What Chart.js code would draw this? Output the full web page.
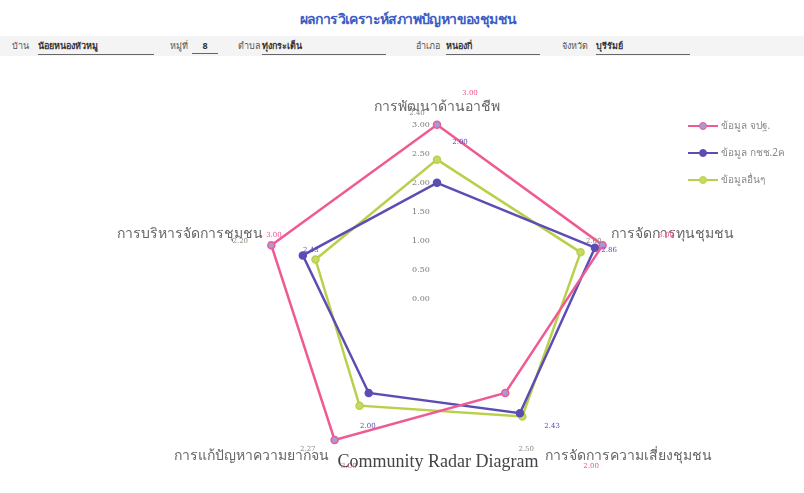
<!DOCTYPE html>
<html>
<head>
<meta charset="utf-8">
<script src="https://cdn.jsdelivr.net/npm/chart.js@4.4.1/dist/chart.umd.min.js"></script>
<style>
    body { margin: 0; width: 804px; height: 493px; background: #fff; position: relative; overflow: hidden; font-family: "Noto Sans", "DejaVu Sans", sans-serif; }
    .title { position: absolute; top: 8px; left: 0; width: 816px; text-align: center; color: #3a5cc4; font-size: 14px; font-weight: bold; letter-spacing: -0.6px; }
    .formRow { position: absolute; top: 36px; left: 0; width: 804px; height: 20px; background: #f4f4f4; font-size: 9px; color: #555; }
    .formRow span { position: absolute; top: 3px; white-space: nowrap; }
    .formRow .fill { border-bottom: 1px solid #666; font-weight: bold; color: #333; padding-bottom: 1px; }
    #chartBox { position: absolute; left: 87px; top: 90px; width: 700px; height: 400px; }
    .legend { position: absolute; left: 688px; top: 112px; font-size: 10px; color: #888; }
    .legend div { height: 27px; display: flex; align-items: center; }
    .legend .mark { position: relative; width: 30px; height: 10px; margin-right: 3px; }
    .legend .mark i { position: absolute; left: 0; right: 0; top: 4px; height: 2px; }
    .legend .mark b { position: absolute; left: 11px; top: 1px; width: 6px; height: 6px; border-radius: 50%; border: 1px solid; }
    .caption { position: absolute; top: 451px; left: 0; width: 876px; text-align: center; font-family: "Liberation Serif", "DejaVu Serif", serif; font-size: 18px; color: #444; }
</style>
</head>
<body>
<div class="title">ผลการวิเคราะห์สภาพปัญหาของชุมชน</div>
<div class="formRow">
    <span style="left:12px">บ้าน</span><span class="fill" style="left:38px;width:116px">น้อยหนองหัวหมู</span>
    <span style="left:170px">หมู่ที่</span><span class="fill" style="left:192px;width:26px;text-align:center">8</span>
    <span style="left:238px">ตำบล</span><span class="fill" style="left:262px;width:124px">ทุ่งกระเต็น</span>
    <span style="left:416px">อำเภอ</span><span class="fill" style="left:446px;width:94px">หนองกี่</span>
    <span style="left:562px">จังหวัด</span><span class="fill" style="left:596px;width:94px">บุรีรัมย์</span>
</div>
<div id="chartBox"><canvas id="radar"></canvas></div>
<div class="legend" id="legend"></div>
<div class="caption">Community Radar Diagram</div>
<script>
const categories = ['การพัฒนาด้านอาชีพ', 'การจัดการทุนชุมชน', 'การจัดการความเสี่ยงชุมชน', 'การแก้ปัญหาความยากจน', 'การบริหารจัดการชุมชน']
const seriesNames = ['ข้อมูล จปฐ.', 'ข้อมูล กชช.2ค', 'ข้อมูลอื่นๆ']
const jpt = [3.00, 3.00, 2.00, 3.00, 3.00]
const kchch = [2.00, 2.86, 2.43, 2.00, 2.43]
const others = [2.40, 2.60, 2.50, 2.27, 2.20]
const tickValues = [0, 0.5, 1, 1.5, 2, 2.5, 3]

const colors = ['#ef5a93', '#5a4db3', '#b9d04a']
const pointFills = ['#a79ad6', '#5a4db3', '#c8db5e']
const labelColors = ['#f0508c', '#5a4db3', '#8a8a7a']
const labelRadius = [3.55, 2.7, 3.2]
const labelShift = [33, 23, -20]

// small value labels next to each point, like the scanned original
const valueLabels = {
    id: 'valueLabels',
    afterDatasetsDraw(chart) {
        const ctx = chart.ctx
        const scale = chart.scales.r
        ctx.save()
        ctx.font = '7px "DejaVu Serif", serif'
        ctx.textAlign = 'center'
        ctx.textBaseline = 'middle'
        chart.data.datasets.forEach((ds, d) => {
            ctx.fillStyle = labelColors[d]
            ds.data.forEach((v, i) => {
                const p = scale.getPointPositionForValue(i, labelRadius[d])
                ctx.fillText(v.toFixed(2), p.x + labelShift[d], p.y)
            })
        })
        ctx.restore()
    }
}

const datasets = [jpt, kchch, others].map((vals, d) => ({
    label: seriesNames[d],
    data: vals,
    borderColor: colors[d],
    backgroundColor: 'transparent',
    borderWidth: 2.5,
    fill: false,
    pointRadius: 3.5,
    pointBorderWidth: 1.5,
    pointBackgroundColor: pointFills[d],
    pointBorderColor: colors[d]
}))

new Chart(document.getElementById('radar').getContext('2d'), {
    type: 'radar',
    data: { labels: categories, datasets: datasets },
    plugins: [valueLabels],
    options: {
        responsive: true,
        maintainAspectRatio: false,
        animation: false,
        plugins: { legend: { display: false }, tooltip: { enabled: false } },
        scales: {
            r: {
                min: 0,
                max: 3,
                grid: { display: false },
                angleLines: { display: false },
                pointLabels: {
                    color: '#666',
                    padding: 3,
                    font: { size: 14, family: '"Noto Sans", "DejaVu Sans", sans-serif' }
                },
                afterBuildTicks: (scale) => {
                    // first tick label is skipped by the radial scale, so repeat 0
                    scale.ticks = [0].concat(tickValues).map(v => ({ value: v }))
                },
                ticks: {
                    showLabelBackdrop: false,
                    color: '#777',
                    font: { size: 8, family: '"DejaVu Serif", serif' },
                    callback: (v) => v.toFixed(2) + '\u2003\u2003\u2003\u2003'
                }
            }
        }
    }
})

// legend: line with a circle, as in the original
document.getElementById('legend').innerHTML = seriesNames.map((name, d) =>
    '<div><span class="mark"><i style="background:' + colors[d] + '"></i><b style="background:' + pointFills[d] +
    ';border-color:' + colors[d] + '"></b></span>' + name + '</div>').join('')
</script>
</body>
</html>
